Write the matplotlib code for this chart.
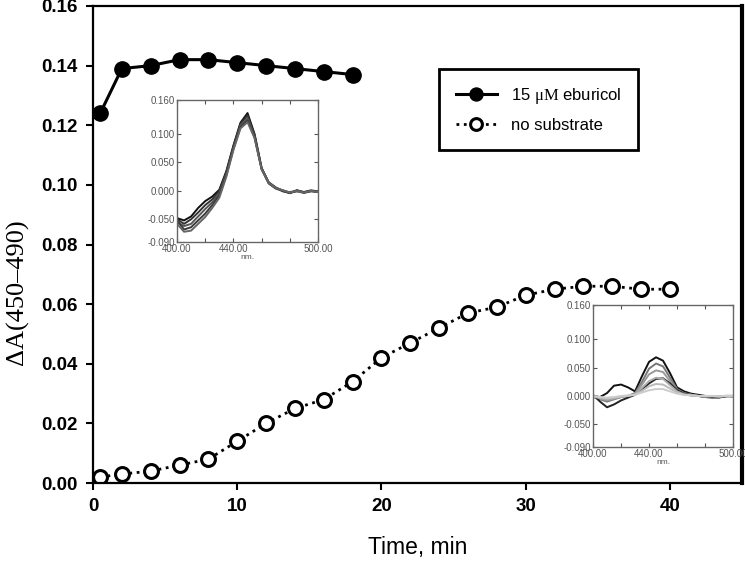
import matplotlib
matplotlib.use("Agg")
import matplotlib.pyplot as plt

plt.rcParams['font.family'] = ['Liberation Sans', 'DejaVu Sans']
plt.rcParams['mathtext.fontset'] = 'custom'
plt.rcParams['mathtext.rm'] = 'Liberation Serif'

# main time course
t_eburicol = [0.5, 2, 4, 6, 8, 10, 12, 14, 16, 18]
a_eburicol = [0.124, 0.139, 0.140, 0.142, 0.142, 0.141, 0.140, 0.139, 0.138, 0.137]

t_nosub = [0.5, 2, 4, 6, 8, 10, 12, 14, 16, 18, 20, 22, 24, 26, 28, 30, 32, 34, 36, 38, 40]
a_nosub = [0.002, 0.003, 0.004, 0.006, 0.008, 0.014, 0.020, 0.025, 0.028, 0.034, 0.042,
           0.047, 0.052, 0.057, 0.059, 0.063, 0.065, 0.066, 0.066, 0.065, 0.065]

x_ticks = [0, 10, 20, 30, 40]
y_ticks = [0.00, 0.02, 0.04, 0.06, 0.08, 0.10, 0.12, 0.14, 0.16]

# inset spectra (nm)
wl = [400, 405, 410, 415, 420, 425, 430, 435, 440, 445, 450,
      455, 460, 465, 470, 475, 480, 485, 490, 495, 500]

spec_eburicol = [
    [-0.048, -0.052, -0.045, -0.030, -0.018, -0.010, 0.002, 0.035, 0.080, 0.120, 0.137,
     0.100, 0.040, 0.015, 0.006, 0.000, -0.004, 0.001, -0.003, 0.000, -0.002],
    [-0.050, -0.058, -0.050, -0.038, -0.025, -0.015, 0.000, 0.033, 0.078, 0.118, 0.133,
     0.098, 0.040, 0.014, 0.005, 0.001, -0.003, -0.001, -0.002, 0.001, -0.001],
    [-0.055, -0.062, -0.058, -0.045, -0.032, -0.020, -0.004, 0.030, 0.076, 0.115, 0.128,
     0.096, 0.039, 0.015, 0.006, -0.001, -0.002, 0.000, -0.004, 0.000, -0.002],
    [-0.052, -0.068, -0.064, -0.052, -0.040, -0.025, -0.008, 0.028, 0.074, 0.112, 0.124,
     0.094, 0.038, 0.013, 0.004, 0.000, -0.004, 0.001, -0.002, -0.001, -0.001],
    [-0.058, -0.072, -0.070, -0.058, -0.046, -0.030, -0.012, 0.025, 0.072, 0.110, 0.121,
     0.093, 0.038, 0.014, 0.005, 0.001, -0.003, 0.000, -0.003, 0.000, -0.002],
]
spec_eburicol_colors = ['#111111', '#333333', '#555555', '#3a3a3a', '#666666']

spec_nosub = [
    [0.000, -0.002, 0.005, 0.018, 0.020, 0.015, 0.008, 0.035, 0.060, 0.068, 0.062,
     0.040, 0.015, 0.008, 0.004, 0.002, 0.000, -0.002, -0.003, 0.000, -0.001],
    [-0.002, -0.006, -0.010, -0.006, -0.002, 0.000, 0.005, 0.025, 0.048, 0.057, 0.052,
     0.032, 0.012, 0.005, 0.002, 0.000, -0.001, -0.002, -0.001, 0.000, 0.000],
    [-0.001, -0.005, -0.008, -0.005, -0.002, 0.000, 0.004, 0.020, 0.038, 0.045, 0.042,
     0.026, 0.010, 0.004, 0.002, 0.000, -0.001, -0.001, -0.002, 0.000, 0.000],
    [0.002, -0.010, -0.020, -0.015, -0.008, -0.003, 0.002, 0.012, 0.022, 0.030, 0.031,
     0.022, 0.010, 0.004, 0.001, 0.000, -0.002, -0.003, -0.002, -0.001, 0.000],
    [-0.001, -0.004, -0.006, -0.004, -0.001, 0.000, 0.003, 0.014, 0.026, 0.032, 0.030,
     0.019, 0.008, 0.003, 0.001, 0.000, -0.001, -0.001, -0.001, 0.000, 0.000],
    [-0.001, -0.003, -0.004, -0.003, -0.001, 0.000, 0.002, 0.009, 0.017, 0.021, 0.020,
     0.013, 0.006, 0.002, 0.001, 0.000, -0.001, 0.000, -0.001, 0.000, 0.000],
    [0.000, -0.002, -0.003, -0.002, 0.000, 0.001, 0.002, 0.006, 0.010, 0.012, 0.012,
     0.008, 0.004, 0.002, 0.001, 0.000, 0.000, 0.000, -0.001, 0.000, 0.000],
]
spec_nosub_colors = ['#111111', '#777777', '#999999', '#222222', '#aaaaaa', '#bbbbbb', '#cccccc']

inset_yticks = [-0.09, -0.05, 0.0, 0.05, 0.10, 0.16]
inset_xticks = [400, 420, 440, 460, 480, 500]
inset_xlabels = ['400.00', '', '440.00', '', '', '500.00']


def draw_inset(fig, rect, curves, colors):
    ax = fig.add_axes(rect)
    for vals, c in zip(curves, colors):
        ax.plot(wl, vals, color=c, lw=1.4)
    ax.set_xlim(400, 500)
    ax.set_ylim(-0.09, 0.16)
    ax.set_xticks(inset_xticks)
    ax.set_xticklabels(inset_xlabels)
    ax.set_yticks(inset_yticks)
    ax.set_yticklabels(['%.3f' % v for v in inset_yticks])
    ax.tick_params(direction='in', top=True, right=True, length=3, width=0.8,
                   labelsize=7, colors='#555555', pad=1.5)
    for s in ax.spines.values():
        s.set_color('#666666')
        s.set_linewidth(1.0)
    ax.set_xlabel('nm.', fontsize=6, color='#555555', labelpad=0)
    return ax


fig = plt.figure(figsize=(7.45, 5.65), dpi=100)
ax = fig.add_axes([0.1248, 0.1451, 0.8712, 0.8443])

ax.plot(t_eburicol, a_eburicol, '-o', color='black', lw=2.2, ms=11,
        mfc='black', mec='black', label=r'15 $\mathrm{\mu M}$ eburicol')
ax.plot(t_nosub, a_nosub, ':o', color='black', lw=2, ms=10,
        mfc='white', mec='black', mew=2.2, label='no substrate')

ax.set_xlim(0, 45)
ax.set_ylim(0, 0.16)
ax.set_xticks(x_ticks)
ax.set_yticks(y_ticks)
ax.set_yticklabels(['%.2f' % v for v in y_ticks])
ax.tick_params(direction='out', length=5, width=1.5, labelsize=13.5, pad=6)
for lab in ax.get_xticklabels() + ax.get_yticklabels():
    lab.set_fontweight('bold')
for s in ax.spines.values():
    s.set_linewidth(1.6)
ax.spines['right'].set_linewidth(3)

ax.set_xlabel('Time, min', fontsize=16.5, labelpad=15)
ax.set_ylabel('ΔA(450–490)', fontsize=19, family='Liberation Serif')
ax.yaxis.set_label_coords(-0.098, 0.40)

leg = ax.legend(loc='upper left', bbox_to_anchor=(0.533, 0.868), borderaxespad=0,
                prop={'size': 12}, fancybox=False, framealpha=1,
                edgecolor='black', handlelength=2.5, handletextpad=0.8, borderpad=1.0,
                labelspacing=0.75, markerscale=0.85)
leg.get_frame().set_linewidth(2)

draw_inset(fig, [0.2376, 0.5717, 0.1893, 0.2513], spec_eburicol, spec_eburicol_colors)
draw_inset(fig, [0.796, 0.2088, 0.188, 0.2513], spec_nosub, spec_nosub_colors)

fig.savefig('out.png', dpi=100)
